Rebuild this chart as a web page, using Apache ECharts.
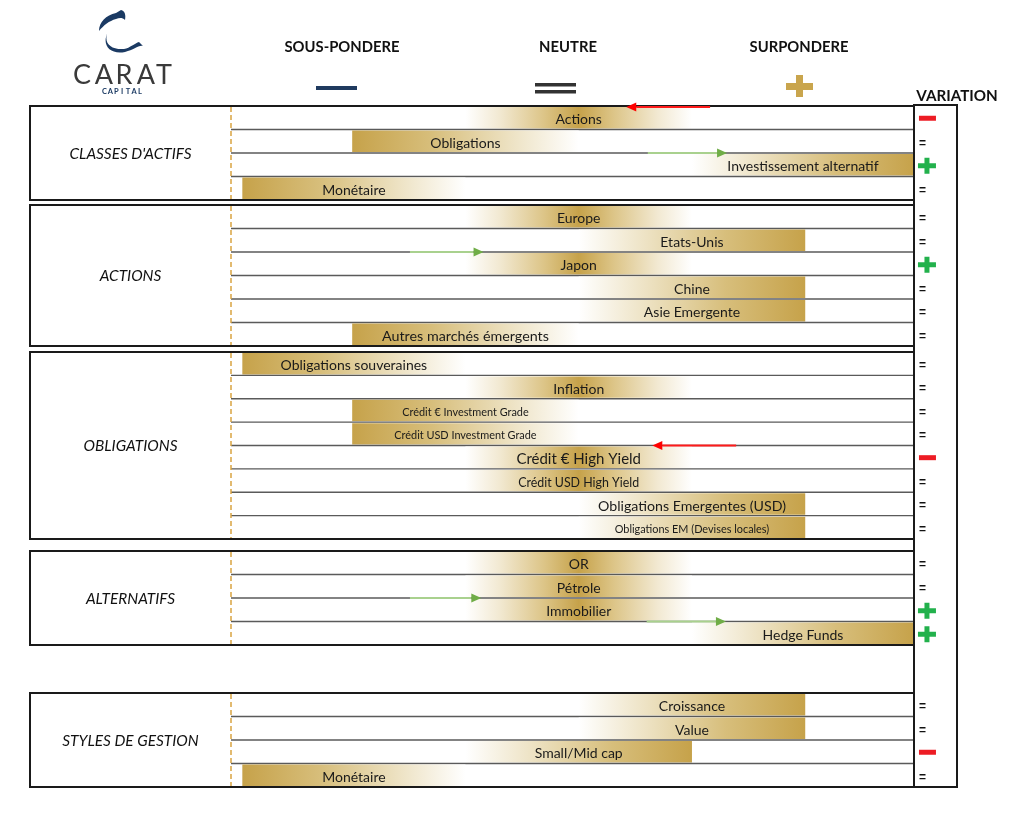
<!DOCTYPE html>
<html><head><meta charset="utf-8">
<script src="https://cdn.jsdelivr.net/npm/echarts@6/dist/echarts.min.js"></script>
<style>html,body{margin:0;padding:0;background:#fff}#c{width:1024px;height:813px}</style>
</head><body><div id="c"></div>
<script>
// ---------------- DATA ----------------
const sectionTitles = ["CLASSES D'ACTIFS", 'ACTIONS', 'OBLIGATIONS', 'ALTERNATIFS', 'STYLES DE GESTION'];
const rowSection = [0,0,0,0, 1,1,1,1,1,1, 2,2,2,2,2,2,2,2, 3,3,3,3, 4,4,4,4];
const rowLabels = [
  'Actions', 'Obligations', 'Investissement alternatif', 'Monétaire',
  'Europe', 'Etats-Unis', 'Japon', 'Chine', 'Asie Emergente', 'Autres marchés émergents',
  'Obligations souveraines', 'Inflation', 'Crédit € Investment Grade', 'Crédit USD Investment Grade',
  'Crédit € High Yield', 'Crédit USD High Yield', 'Obligations Emergentes (USD)', 'Obligations EM (Devises locales)',
  'OR', 'Pétrole', 'Immobilier', 'Hedge Funds',
  'Croissance', 'Value', 'Small/Mid cap', 'Monétaire'
];
// position scale: -2 sous-pondéré ... 0 neutre ... +2 surpondéré
const barStart = [-1, -2, 1, -2.97,  -1, 0, -1, 0, 0, -2,  -2.97, -1, -2, -2, -1, -1, 0, 0,  -1, -1, -1, 1,  0, 0, -1, -2.97];
const barEnd   = [ 1,  0, 2.96, -1,   1, 2,  1, 2, 2,  0,  -1,  1,  0,  0,  1,  1, 2, 2,   1,  1,  1, 2.96,  2, 2, 1, -1];
// L = plein à gauche, R = plein à droite, C = centré
const barShape = ['C','L','R','L', 'C','R','C','R','R','L', 'L','C','L','L','C','C','R','R', 'C','C','C','R', 'R','R','R','L'];
const variation = ['-','=','+','=', '=','=','+','=','=','=', '=','=','=','=','-','=','=','=', '=','=','+','+', '=','=','-','='];
const arrowRows = [0, 2, 6, 14, 20, 21];
const arrowFrom = [1.16, 0.61, -1.49, 1.39, -1.49, 0.60];
const arrowTo   = [0.42, 1.31, -0.84, 0.65, -0.86, 1.30];
const headerLabels = ['SOUS-PONDERE', 'NEUTRE', 'SURPONDERE'];
const variationTitle = 'VARIATION';

// ---------------- STYLE / LAYOUT ----------------
const AX_MIN = -3.07, AX_MAX = 3.34, BAR_MAX = 2.96;
const sectTop = [106, 205, 352, 551, 693];
const sectBottom = [200, 346, 539, 645, 787];
const GRID_LEFT = 231, GRID_RIGHT = 67, BOX_LEFT = 30, BOX_RIGHT = 914, VAR_RIGHT = 957;
const labelSize = {
  'Crédit € Investment Grade': 10.9, 'Crédit USD Investment Grade': 10.9,
  'Obligations EM (Devises locales)': 10.9, 'Crédit € High Yield': 15,
  'Obligations Emergentes (USD)': 14.2, 'Crédit USD High Yield': 12.4, 'Autres marchés émergents': 14.3
};
const FONT = 'Lato, "Open Sans", sans-serif';
const GOLD = '#c6a24a';
function grad(shape) {
  let stops;
  if (shape === 'L') stops = [[0, GOLD], [0.35, '#d7be7b'], [0.7, '#ede2c3'], [1, '#ffffff']];
  else if (shape === 'R') stops = [[0, '#ffffff'], [0.3, '#ede2c3'], [0.65, '#d7be7b'], [1, GOLD]];
  else stops = [[0, '#ffffff'], [0.15, '#f2e9d2'], [0.35, '#dcc486'], [0.5, GOLD], [0.65, '#dcc486'], [0.85, '#f2e9d2'], [1, '#ffffff']];
  return { type: 'linear', x: 0, y: 0, x2: 1, y2: 0, colorStops: stops.map(s => ({ offset: s[0], color: s[1] })) };
}

function variationShape(v, x, y) {
  if (v === '-') return { type: 'rect', shape: { x: x, y: y - 3, width: 17, height: 5 }, style: { fill: '#ed1c24' } };
  if (v === '+') return { type: 'group', children: [
    { type: 'rect', shape: { x: x - 1, y: y - 2.5, width: 18, height: 5 }, style: { fill: '#22b14c' } },
    { type: 'rect', shape: { x: x + 5.5, y: y - 8, width: 5, height: 16 }, style: { fill: '#22b14c' } }
  ] };
  return { type: 'text', style: { text: '=', x: x, y: y + 1, fill: '#111', font: 'bold 12px "Liberation Sans", sans-serif', textVerticalAlign: 'middle' } };
}

const grids = [], xAxes = [], yAxes = [], series = [];
sectionTitles.forEach((t, s) => {
  const idxs = rowSection.map((v, i) => v === s ? i : -1).filter(i => i >= 0);
  const n = idxs.length;
  grids.push({ left: GRID_LEFT, right: GRID_RIGHT, top: sectTop[s], height: sectBottom[s] - sectTop[s] });
  xAxes.push({ type: 'value', gridIndex: s, min: AX_MIN, max: AX_MAX, show: false });
  yAxes.push({ type: 'category', gridIndex: s, inverse: true, data: idxs.map(i => rowLabels[i]), show: false });
  series.push({
    type: 'custom', xAxisIndex: s, yAxisIndex: s, silent: true,
    encode: { x: [0, 1], y: 2 },
    data: idxs.map((g, k) => [barStart[g], barEnd[g], k, g]),
    renderItem: function (params, api) {
      const k = api.value(2), g = api.value(3);
      const a = api.coord([api.value(0), k]), b = api.coord([api.value(1), k]);
      const h = api.size([0, 1])[1];
      const top = a[1] - h / 2;
      const xl = api.coord([AX_MIN, k])[0], xr = api.coord([BAR_MAX, k])[0];
      const children = [
        { type: 'rect', shape: { x: a[0], y: top + 1, width: b[0] - a[0], height: h - 2 }, style: { fill: grad(barShape[g]) } },
        { type: 'text', style: { text: rowLabels[g], x: (a[0] + b[0]) / 2, y: a[1] + 2, textAlign: 'center', textVerticalAlign: 'middle',
          fill: '#1a1a1a', font: (labelSize[rowLabels[g]] || 14) + 'px ' + FONT } },
        variationShape(variation[g], xr + 5, a[1] + 1)
      ];
      if (k < n - 1) children.push({ type: 'line', shape: { x1: xl, y1: top + h, x2: xr, y2: top + h }, style: { stroke: '#5a5a5a', lineWidth: 1.3 } });
      return { type: 'group', children: children };
    },
    z: 2
  });
  const arr = arrowRows.map((r, j) => [r, j]).filter(p => rowSection[p[0]] === s);
  if (arr.length) {
    series.push({
      type: 'custom', xAxisIndex: s, yAxisIndex: s, silent: true,
      encode: { x: [0, 1], y: 2 },
      data: arr.map(p => [arrowFrom[p[1]], arrowTo[p[1]], idxs.indexOf(p[0])]),
      renderItem: function (params, api) {
        const k = api.value(2);
        const a = api.coord([api.value(0), k]), b = api.coord([api.value(1), k]);
        const h = api.size([0, 1])[1];
        const y = a[1] - h / 2 + (k === 0 ? 1 : 0);
        const dir = b[0] > a[0] ? 1 : -1;
        const up = dir > 0;
        const shaft = up ? '#a9d18e' : '#ff1a1a';
        const head = up ? '#70ad47' : '#ff0000';
        const L = 10;
        return { type: 'group', children: [
          { type: 'line', shape: { x1: a[0], y1: y, x2: b[0] - dir * L, y2: y }, style: { stroke: shaft, lineWidth: 1.8 } },
          { type: 'polygon', shape: { points: [[b[0], y], [b[0] - dir * L, y - 4.5], [b[0] - dir * L, y + 4.5]] }, style: { fill: head } }
        ] };
      },
      z: 150
    });
  }
});

// ---------------- FRAMES / HEADER ----------------
const graphics = [];
sectionTitles.forEach((t, s) => {
  graphics.push({ type: 'rect', z: 100, shape: { x: BOX_LEFT, y: sectTop[s], width: BOX_RIGHT - BOX_LEFT, height: sectBottom[s] - sectTop[s] },
    style: { fill: 'none', stroke: '#1a1a1a', lineWidth: 2 } });
  graphics.push({ type: 'line', z: 99, shape: { x1: GRID_LEFT, y1: sectTop[s] + 1, x2: GRID_LEFT, y2: sectBottom[s] - 1 },
    style: { stroke: '#d9a441', lineWidth: 1.5, lineDash: [5, 3] } });
  graphics.push({ type: 'text', z: 100, style: { text: t, x: (BOX_LEFT + GRID_LEFT) / 2, y: (sectTop[s] + sectBottom[s]) / 2 + 1,
    textAlign: 'center', textVerticalAlign: 'middle', fill: '#111', font: 'italic 15.4px ' + FONT } });
});
graphics.push({ type: 'rect', z: 100, shape: { x: BOX_RIGHT, y: 105, width: VAR_RIGHT - BOX_RIGHT, height: 682 },
  style: { fill: 'none', stroke: '#1a1a1a', lineWidth: 2 } });
graphics.push({ type: 'text', z: 100, style: { text: variationTitle, x: 957, y: 96, textAlign: 'center', textVerticalAlign: 'middle', fill: '#111', font: 'bold 15.2px ' + FONT } });
const headerX = [342, 568, 799];
headerLabels.forEach((h, i) => graphics.push({ type: 'text', z: 100, style: { text: h, x: headerX[i], y: 47, textAlign: 'center', textVerticalAlign: 'middle', fill: '#111', font: 'bold 14.8px ' + FONT } }));
graphics.push({ type: 'rect', shape: { x: 316, y: 86, width: 41, height: 4 }, style: { fill: '#1f3a5f' } });
graphics.push({ type: 'rect', shape: { x: 535, y: 83, width: 41, height: 3.5 }, style: { fill: '#333' } });
graphics.push({ type: 'rect', shape: { x: 535, y: 90, width: 41, height: 3.5 }, style: { fill: '#333' } });
graphics.push({ type: 'rect', shape: { x: 786, y: 83, width: 27, height: 7 }, style: { fill: '#c9a54d' } });
graphics.push({ type: 'rect', shape: { x: 796, y: 75, width: 7, height: 22 }, style: { fill: '#c9a54d' } });
// logo (swoosh as inline SVG image)
const logoSvg = '<svg xmlns="http://www.w3.org/2000/svg" width="50" height="46" viewBox="95 8 50 46">' +
  '<path fill="#1b3a63" d="M99,31 C99,22 106,15 116,13 L121,10 C125,11 126,15 125,20 C122,17 119,18 116,19 C109,21 104,25 99,31 Z"/>' +
  '<path fill="#1b3a63" d="M108,32 C103,42 110,50 124,49 C130,48 135,43 139,42 L143,46 C138,45 134,50 125,52 C110,55 101,45 108,32 Z"/></svg>';
graphics.push({ type: 'image', style: { image: 'data:image/svg+xml;charset=utf-8,' + encodeURIComponent(logoSvg), x: 95, y: 8, width: 50, height: 46 } });
const logoLetters = ['C', 'A', 'R', 'A', 'T'];
const logoX = [82, 104, 124, 146, 164];
logoLetters.forEach((c, i) => graphics.push({ type: 'text', style: { text: c, x: logoX[i], y: 75, textAlign: 'center', textVerticalAlign: 'middle', fill: '#3a3a3a', font: '400 27px ' + FONT } }));
const capLetters = 'CAPITAL'.split('');
capLetters.forEach((c, i) => graphics.push({ type: 'text', style: { text: c, x: 104.5 + i * 5.9, y: 92, textAlign: 'center', textVerticalAlign: 'middle', fill: '#1b3a63', font: 'bold 7.5px ' + FONT } }));

const chart = echarts.init(document.getElementById('c'));
chart.setOption({
  animation: false,
  backgroundColor: '#fff',
  grid: grids, xAxis: xAxes, yAxis: yAxes, series: series,
  graphic: graphics
});
</script>
</body></html>
